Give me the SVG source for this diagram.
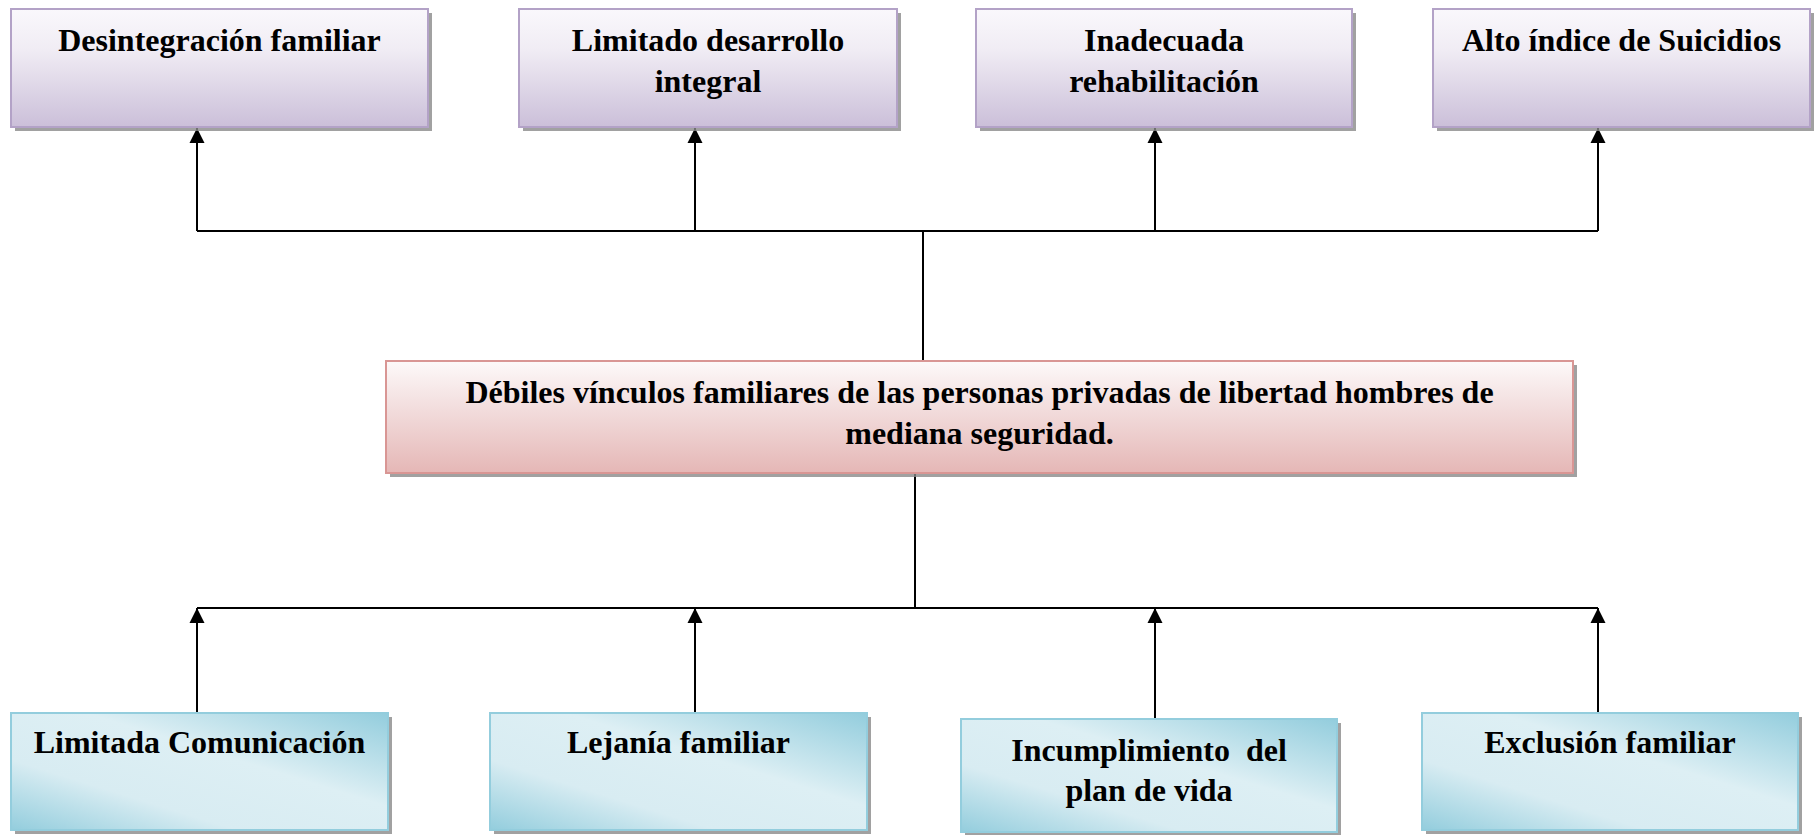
<svg xmlns="http://www.w3.org/2000/svg" width="1820" height="835" viewBox="0 0 1820 835">
<style>
.t{font-family:"Liberation Serif","Times New Roman",serif;font-weight:bold;font-size:32px;fill:#000;text-anchor:middle}
.sh{fill:#8a8a8a;opacity:0.8}
.top{fill:url(#gTop);stroke:#b3a2c7;stroke-width:2}
.mid{fill:url(#gMid);stroke:#d99694;stroke-width:2}
.bot{fill:url(#gBot);stroke:#93cddd;stroke-width:2}
.c{stroke:#000;stroke-width:2;fill:none}
</style>
<defs>
<linearGradient id="gTop" x1="0" y1="0" x2="0" y2="1">
<stop offset="0" stop-color="#faf8fc"/><stop offset="0.35" stop-color="#f0ecf4"/><stop offset="1" stop-color="#cbbfd9"/>
</linearGradient>
<linearGradient id="gMid" x1="0" y1="0" x2="0" y2="1">
<stop offset="0" stop-color="#fdf9f9"/><stop offset="0.35" stop-color="#f4e2e2"/><stop offset="1" stop-color="#e5b7b6"/>
</linearGradient>
<linearGradient id="gBot" x1="0" y1="1" x2="1" y2="0">
<stop offset="0" stop-color="#93cddd"/><stop offset="0.3" stop-color="#d8ecf2"/><stop offset="0.6" stop-color="#ddeff4"/><stop offset="1" stop-color="#93cddd"/>
</linearGradient>
<marker id="ah" viewBox="0 0 10 10" refX="10" refY="5" markerWidth="7.5" markerHeight="8" orient="auto" markerUnits="strokeWidth">
<path d="M0,0 L10,5 L0,10 z" fill="#000"/>
</marker>
</defs>
<g id="connectors">
<line class="c" x1="197" y1="231" x2="1598" y2="231"/>
<line class="c" x1="923" y1="231" x2="923" y2="361"/>
<line class="c" x1="197" y1="231" x2="197" y2="128" marker-end="url(#ah)"/>
<line class="c" x1="695" y1="231" x2="695" y2="128" marker-end="url(#ah)"/>
<line class="c" x1="1155" y1="231" x2="1155" y2="128" marker-end="url(#ah)"/>
<line class="c" x1="1598" y1="231" x2="1598" y2="128" marker-end="url(#ah)"/>
<line class="c" x1="915" y1="474" x2="915" y2="608"/>
<line class="c" x1="197" y1="608" x2="1598" y2="608"/>
<line class="c" x1="197" y1="713" x2="197" y2="608" marker-end="url(#ah)"/>
<line class="c" x1="695" y1="713" x2="695" y2="608" marker-end="url(#ah)"/>
<line class="c" x1="1155" y1="719" x2="1155" y2="608" marker-end="url(#ah)"/>
<line class="c" x1="1598" y1="713" x2="1598" y2="608" marker-end="url(#ah)"/>
</g>
<g id="n1">
<rect class="sh" x="15" y="13" width="417" height="118"/>
<rect class="top" x="11" y="9" width="417" height="118"/>
<text class="t" x="219.5" y="51">Desintegración familiar</text>
</g>
<g id="n2">
<rect class="sh" x="523" y="13" width="378" height="118"/>
<rect class="top" x="519" y="9" width="378" height="118"/>
<text class="t" x="708" y="51">Limitado desarrollo</text>
<text class="t" x="708" y="92">integral</text>
</g>
<g id="n3">
<rect class="sh" x="980" y="13" width="376" height="118"/>
<rect class="top" x="976" y="9" width="376" height="118"/>
<text class="t" x="1164" y="51">Inadecuada</text>
<text class="t" x="1164" y="92">rehabilitación</text>
</g>
<g id="n4">
<rect class="sh" x="1437" y="13" width="377" height="118"/>
<rect class="top" x="1433" y="9" width="377" height="118"/>
<text class="t" x="1621.5" y="51">Alto índice de Suicidios</text>
</g>
<g id="center">
<rect class="sh" x="390" y="365" width="1187" height="112"/>
<rect class="mid" x="386" y="361" width="1187" height="112"/>
<text class="t" x="979.5" y="403">Débiles vínculos familiares de las personas privadas de libertad hombres de</text>
<text class="t" x="979.5" y="444">mediana seguridad.</text>
</g>
<g id="b1">
<rect class="sh" x="15" y="717" width="377" height="117"/>
<rect class="bot" x="11" y="713" width="377" height="117"/>
<text class="t" x="199.5" y="753">Limitada Comunicación</text>
</g>
<g id="b2">
<rect class="sh" x="494" y="717" width="377" height="117"/>
<rect class="bot" x="490" y="713" width="377" height="117"/>
<text class="t" x="678.5" y="753">Lejanía familiar</text>
</g>
<g id="b3">
<rect class="sh" x="965" y="723" width="376" height="113"/>
<rect class="bot" x="961" y="719" width="376" height="113"/>
<text class="t" x="1149" y="761" xml:space="preserve" style="white-space:pre">Incumplimiento  del</text>
<text class="t" x="1149" y="801">plan de vida</text>
</g>
<g id="b4">
<rect class="sh" x="1426" y="717" width="376" height="117"/>
<rect class="bot" x="1422" y="713" width="376" height="117"/>
<text class="t" x="1610" y="753">Exclusión familiar</text>
</g>
</svg>
